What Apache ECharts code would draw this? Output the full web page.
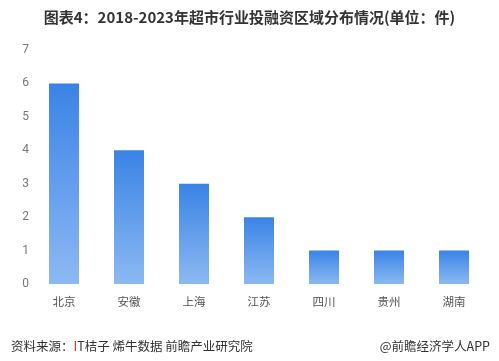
<!DOCTYPE html>
<html><head><meta charset="utf-8">
<script src="https://cdn.jsdelivr.net/npm/echarts@6/dist/echarts.min.js"></script>
<style>html,body{margin:0;padding:0;background:#fff}#c{width:499px;height:361px}</style>
</head><body><div id="c"></div>
<script>
const categories = ['北京','安徽','上海','江苏','四川','贵州','湖南'];
const values = [6,4,3,2,1,1,1];
const yTicks = [0,1,2,3,4,5,6,7];
const titleText = '图表4：2018-2023年超市行业投融资区域分布情况(单位：件)';

const chart = echarts.init(document.getElementById('c'), null, {renderer:'canvas'});
chart.setOption({
  animation:false,
  backgroundColor:'#fff',
  title:[{
    text:titleText, left:'center', top:5,
    textStyle:{fontFamily:'Noto Sans CJK SC', fontWeight:'bold', fontSize:15, color:'#333'}
  },{
    text:'{r|资料来源：}{red|I}{r|T桔子 烯牛数据 前瞻产业研究院}', left:6, top:335,
    textStyle:{fontWeight:'normal', rich:{
      r:{fontFamily:'Noto Sans CJK SC', fontSize:12.5, fontWeight:'normal', color:'#333'},
      red:{fontFamily:'Noto Sans CJK SC', fontSize:12.5, fontWeight:'normal', color:'#c0392b'}
    }}
  },{
    text:'@前瞻经济学人APP', right:4, top:335,
    textStyle:{fontFamily:'Noto Sans CJK SC', fontSize:12.5, fontWeight:'normal', color:'#333'}
  }],
  grid:{left:31.5, right:12.5, top:50, bottom:77},
  xAxis:{
    type:'category', data:categories,
    axisLine:{show:false}, axisTick:{show:false},
    axisLabel:{color:'#555', fontSize:11.5, margin:12, fontFamily:'Noto Sans CJK SC'}
  },
  yAxis:{
    type:'value', min:yTicks[0], max:yTicks[yTicks.length-1], interval:1,
    axisLine:{show:false}, axisTick:{show:false}, splitLine:{show:false},
    axisLabel:{color:'#777', fontSize:12, margin:10, fontFamily:'Roboto', align:'center'},
    offset:-4
  },
  series:[{
    type:'bar', data:values, barWidth:30,
    itemStyle:{color:new echarts.graphic.LinearGradient(0,0,0,1,[
      {offset:0,color:'#3a83e6'},{offset:1,color:'#8cb9f2'}
    ])}
  }]
});
</script></body></html>
